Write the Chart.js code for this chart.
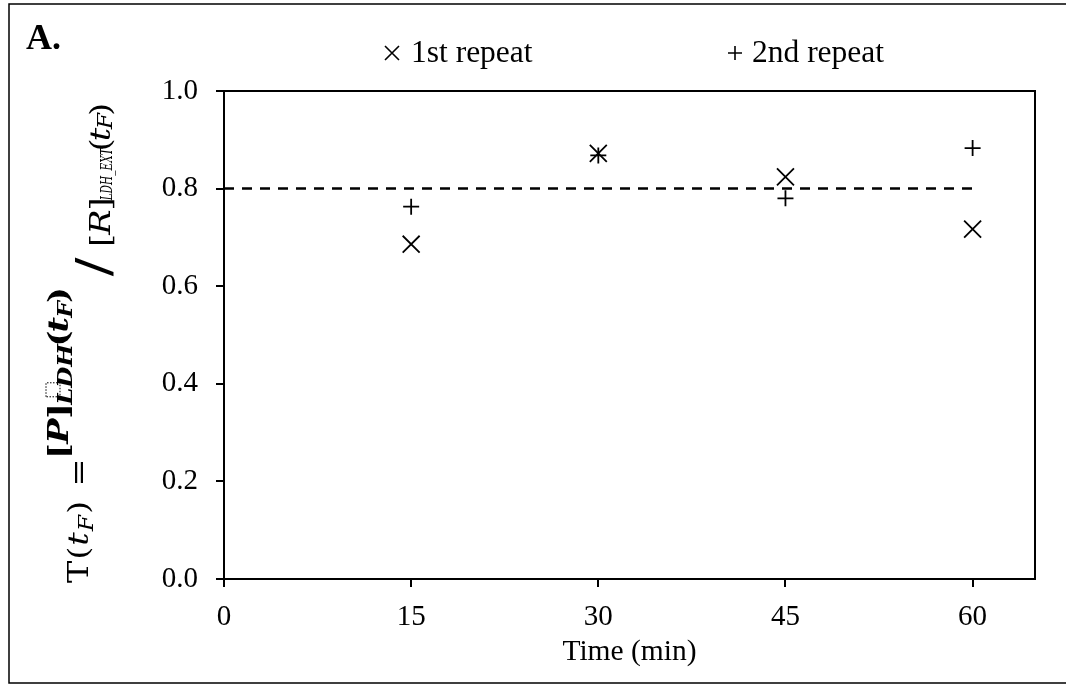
<!DOCTYPE html>
<html>
<head>
<meta charset="utf-8">
<script src="https://cdn.jsdelivr.net/npm/chart.js@4.4.1/dist/chart.umd.min.js"></script>
<style>
  html, body { margin: 0; padding: 0; background: #fff; }
  canvas { display: block; }
</style>
</head>
<body>
<canvas id="chart" width="1066" height="686"></canvas>
<script>
// sampling times (min) and the ratio measured for each repeat
const times = [15, 30, 45, 60];
const repeat1 = [0.686, 0.872, 0.824, 0.717];
const repeat2 = [0.763, 0.868, 0.780, 0.883];
const seriesNames = ['1st repeat', '2nd repeat'];
const threshold = 0.8;
const thresholdSpan = [0, 60];
const xTicks = [0, 15, 30, 45, 60];
const yTicks = [0, 0.2, 0.4, 0.6, 0.8, 1.0];

const SERIF = '"Liberation Serif", "Times New Roman", serif';
const MATH = '"DejaVu Serif", serif';

const toPoints = (ys) => times.map((t, i) => ({ x: t, y: ys[i] }));

// y axis formula T(t_F) = [P]_LDH(t_F) / [R]_LDH_EXT(t_F), laid out in pieces;
// each group is either spread over [from, to] or centred on `center`;
// g weights how much of the spare room goes after a piece
const S = 28;
const WIDEN = 1.2;
const formula = [
  { from: 0, to: 82, dy: 0, drop: 5, segs: [
    { t: 'T' }, { t: '(' }, { t: 't', s: 'italic' }, { t: 'F', s: 'italic', sub: 0.7 }, { t: ')' }
  ] },
  { center: 110.5, dy: 0, segs: [{ t: '=' }] },
  { from: 124, to: 296, dy: -20, drop: 4, segs: [
    { t: '[', s: 'bold', g: 0.3 }, { t: 'P', s: 'italic bold', g: 0.3 }, { t: ']', s: 'bold', g: 1 },
    { box: 1 }, { t: 'LDH', s: 'italic bold', sub: 0.72, g: 1.5 },
    { t: '(', s: 'bold', g: 1 }, { t: 't', s: 'italic bold', g: 0.5 }, { t: 'F', s: 'italic bold', sub: 0.7, g: 1 },
    { t: ')', s: 'bold' }
  ] },
  { center: 316, dy: 21, segs: [{ t: '/', k: 1.65 }] },
  { from: 336, to: 480, dy: 22, drop: 2, segs: [
    { t: '[', g: 0.3 }, { t: 'R', s: 'italic', g: 0.3 }, { t: ']' },
    { t: 'LDH_EXT', s: 'italic', sub: 0.6, w: 52 },
    { t: '(' }, { t: 't', s: 'italic', g: 0.5 }, { t: 'F', s: 'italic', sub: 0.7 }, { t: ')' }
  ] }
];

function segFont(sg) {
  const size = S * (sg.sub || sg.k || 1);
  return (sg.s ? sg.s + ' ' : '') + size.toFixed(1) + 'px ' + MATH;
}

function segWidth(ctx, sg) {
  if (sg.box) return 0;
  ctx.font = segFont(sg);
  const w = ctx.measureText(sg.t).width * WIDEN;
  return sg.w ? Math.min(w, sg.w) : w;
}

function drawFormula(ctx) {
  ctx.textBaseline = 'alphabetic';
  ctx.textAlign = 'left';
  formula.forEach((g) => {
    const parts = g.segs.filter((sg) => !sg.box);
    const widths = g.segs.map((sg) => segWidth(ctx, sg));
    const total = widths.reduce((p, c) => p + c, 0);
    const weights = parts.slice(0, -1).reduce((p, sg) => p + (sg.g === undefined ? 1 : sg.g), 0);
    let u, unit = 0;
    if (g.center !== undefined) {
      u = g.center - total / 2;
    } else {
      u = g.from;
      unit = weights > 0 ? (g.to - g.from - total) / weights : 0;
    }
    g.segs.forEach((sg, i) => {
      if (sg.box) {
        // empty placeholder box above the subscript
        ctx.save();
        ctx.lineWidth = 1;
        ctx.setLineDash([1.5, 1.5]);
        ctx.strokeRect(u + 8, -42, 14, 14);
        ctx.restore();
        return;
      }
      ctx.font = segFont(sg);
      ctx.save();
      ctx.translate(u, g.dy + (sg.sub ? g.drop : 0));
      ctx.scale(WIDEN, 1);
      if (sg.w) ctx.fillText(sg.t, 0, 0, sg.w / WIDEN);
      else ctx.fillText(sg.t, 0, 0);
      ctx.restore();
      u += widths[i] + unit * (sg.g === undefined ? 1 : sg.g);
    });
  });
}

// outer frame, panel letter, legend, plot box and the formula on the y axis
const decorations = {
  id: 'decorations',
  afterDraw(chart) {
    const ctx = chart.ctx;
    const a = chart.chartArea;
    ctx.save();
    ctx.strokeStyle = '#000';
    ctx.fillStyle = '#000';

    // figure frame (left, top, bottom)
    ctx.lineWidth = 1.5;
    ctx.beginPath();
    ctx.moveTo(1066, 4); ctx.lineTo(9, 4); ctx.lineTo(9, 683); ctx.lineTo(1066, 683);
    ctx.stroke();

    // plot box top and right
    ctx.lineWidth = 2;
    ctx.beginPath();
    ctx.moveTo(a.left, a.top); ctx.lineTo(a.right, a.top); ctx.lineTo(a.right, a.bottom);
    ctx.stroke();

    // panel letter
    ctx.font = 'bold 36px ' + SERIF;
    ctx.textBaseline = 'alphabetic';
    ctx.textAlign = 'left';
    ctx.fillText('A.', 26, 49);

    // legend
    const items = [
      { x: 392, textX: 411, style: 'crossRot' },
      { x: 735, textX: 752, style: 'cross' }
    ];
    ctx.font = '31.5px ' + SERIF;
    ctx.textBaseline = 'middle';
    ctx.lineWidth = 1.6;
    items.forEach((it, i) => {
      const y = 53;
      const h = 7;
      ctx.beginPath();
      if (it.style === 'crossRot') {
        ctx.moveTo(it.x - h, y - h); ctx.lineTo(it.x + h, y + h);
        ctx.moveTo(it.x - h, y + h); ctx.lineTo(it.x + h, y - h);
      } else {
        ctx.moveTo(it.x - h, y); ctx.lineTo(it.x + h, y);
        ctx.moveTo(it.x, y - h); ctx.lineTo(it.x, y + h);
      }
      ctx.stroke();
      ctx.fillText(chart.data.datasets[i].label, it.textX, y + 1);
    });

    // rotated y axis title, baseline at x = 88, starting at y = 583
    ctx.translate(88, 583);
    ctx.rotate(-Math.PI / 2);
    drawFormula(ctx);
    ctx.restore();
  }
};

new Chart(document.getElementById('chart'), {
  type: 'scatter',
  data: {
    datasets: [
      {
        label: seriesNames[0],
        data: toPoints(repeat1),
        pointStyle: 'crossRot',
        pointRadius: 12,
        pointBorderWidth: 1.8,
        borderColor: '#000',
        backgroundColor: '#000'
      },
      {
        label: seriesNames[1],
        data: toPoints(repeat2),
        pointStyle: 'cross',
        pointRadius: 8,
        pointBorderWidth: 1.8,
        borderColor: '#000',
        backgroundColor: '#000'
      },
      {
        type: 'line',
        label: 'threshold',
        data: thresholdSpan.map((x) => ({ x: x, y: threshold })),
        borderColor: '#000',
        borderWidth: 2.5,
        borderDash: [10, 8],
        pointRadius: 0,
        fill: false
      }
    ]
  },
  options: {
    responsive: false,
    animation: false,
    devicePixelRatio: 1,
    layout: { padding: { top: 91, right: 31, left: 0, bottom: 0 } },
    plugins: {
      legend: { display: false },
      tooltip: { enabled: false }
    },
    scales: {
      x: {
        type: 'linear',
        min: 0,
        max: 65,
        afterFit: (s) => { s.height = 107; },
        afterBuildTicks: (s) => { s.ticks = xTicks.map((v) => ({ value: v })); },
        ticks: {
          color: '#000',
          font: { family: SERIF, size: 29 },
          padding: 13,
          maxRotation: 0
        },
        grid: { drawOnChartArea: false, drawTicks: true, tickLength: 8, color: '#000', lineWidth: 2 },
        border: { display: true, color: '#000', width: 2 },
        title: {
          display: true,
          text: 'Time (min)',
          color: '#000',
          font: { family: SERIF, size: 29.5 },
          padding: { top: 0, bottom: 16 }
        }
      },
      y: {
        min: 0,
        max: 1,
        afterFit: (s) => { s.width = 224; },
        afterBuildTicks: (s) => { s.ticks = yTicks.map((v) => ({ value: v })); },
        ticks: {
          color: '#000',
          font: { family: SERIF, size: 29 },
          padding: 18,
          callback: (v) => v.toFixed(1)
        },
        grid: { drawOnChartArea: false, drawTicks: true, tickLength: 8, color: '#000', lineWidth: 2 },
        border: { display: true, color: '#000', width: 2 }
      }
    }
  },
  plugins: [decorations]
});
</script>
</body>
</html>
